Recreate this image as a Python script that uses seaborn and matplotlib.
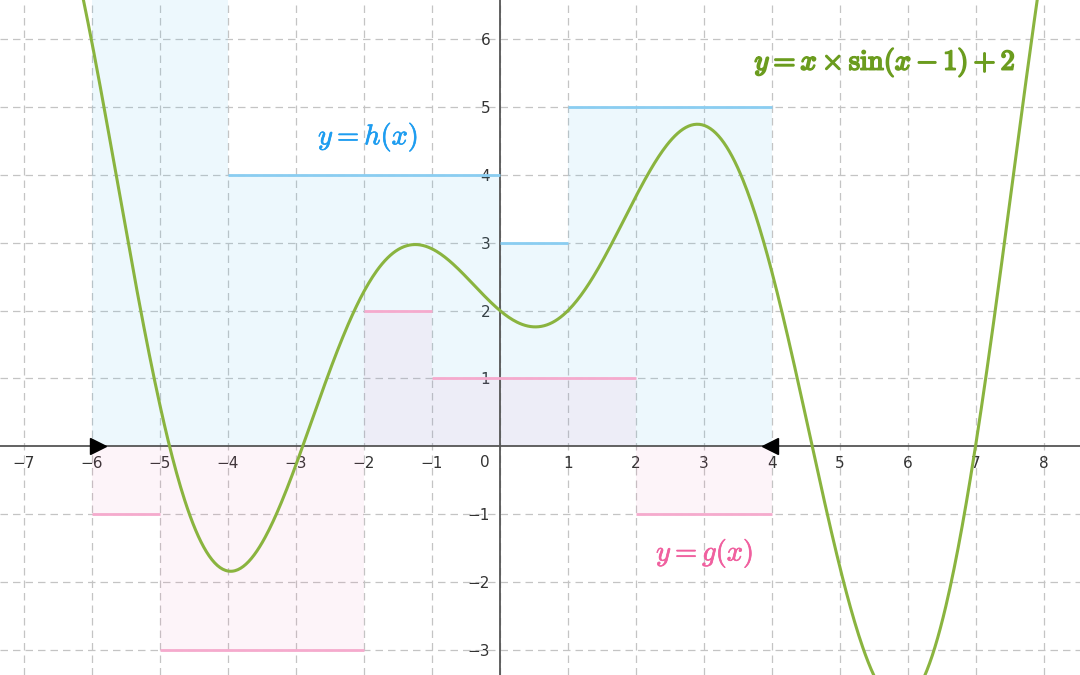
import numpy as np
import matplotlib
matplotlib.use("Agg")
import matplotlib.pyplot as plt
import matplotlib.patheffects as pe
import seaborn as sns

# step function h(x): edges and values (value on [-6,-4] runs off the top)
h_edges = [-6, -4, 0, 1, 4]
h_vals = [7, 4, 3, 5]

# step function g(x)
g_edges = [-6, -5, -2, -1, 2, 4]
g_vals = [-1, -3, 2, 1, -1]

x_ticks = [-7, -6, -5, -4, -3, -2, -1, 0, 1, 2, 3, 4, 5, 6, 7, 8]
y_ticks = [-3, -2, -1, 1, 2, 3, 4, 5, 6]

# the plotted function, as written on the chart: y = x*sin(x-1)+2
xs = np.linspace(-7.4, 8.6, 800)
ys = xs * np.sin(xs - 1) + 2

green = "#8ab43f"
blue_line = "#8acdf1"
pink_line = "#f5aacd"

sns.set_theme(style="white")
plt.rcParams['font.family'] = ['DejaVu Sans']
plt.rcParams['mathtext.fontset'] = 'cm'

fig = plt.figure(figsize=(10.8, 6.75), dpi=100)
ax = fig.add_axes([0, 0, 1, 1])
ax.set_xlim(-7.353, 8.53)
ax.set_ylim(-3.367, 6.574)

# grid
for t in x_ticks:
    ax.axvline(t, color="#c4c4c4", lw=0.9, ls=(0, (6, 4)), zorder=0)
for t in y_ticks:
    ax.axhline(t, color="#c4c4c4", lw=0.9, ls=(0, (6, 4)), zorder=0)

# shaded areas under the step functions
h_x = np.array(h_edges)
h_y = np.array(h_vals + [h_vals[-1]])
ax.fill_between(h_x, 0, h_y, step="post", color="#50bef0", alpha=0.1, lw=0, zorder=1)
g_x = np.array(g_edges)
g_y = np.array(g_vals + [g_vals[-1]])
ax.fill_between(g_x, 0, g_y, step="post", color="#f064aa", alpha=0.07, lw=0, zorder=1)

# step segments
ax.hlines(h_vals, h_edges[:-1], h_edges[1:], color=blue_line, lw=2, zorder=3)
ax.hlines(g_vals, g_edges[:-1], g_edges[1:], color=pink_line, lw=2, zorder=3)

# axes through the origin
ax.spines['left'].set_position('zero')
ax.spines['bottom'].set_position('zero')
ax.spines['right'].set_visible(False)
ax.spines['top'].set_visible(False)
for s in ['left', 'bottom']:
    ax.spines[s].set_color("#555555")
    ax.spines[s].set_linewidth(1.3)
    ax.spines[s].set_zorder(2)

ax.set_xticks(x_ticks)
ax.set_xticklabels([("\u2212%d" % -t if t < 0 else str(t)) if t != 0 else "" for t in x_ticks])
ax.set_yticks(y_ticks)
ax.set_yticklabels([("\u2212%d" % -t if t < 0 else str(t)) for t in y_ticks])
ax.tick_params(axis='both', length=0, labelsize=11, colors="#333333")
ax.tick_params(axis='x', pad=7)
ax.tick_params(axis='y', pad=7)
ax.text(-0.22, -0.24, "0", fontsize=11, color="#333333", ha="center", va="center")

# the curve
sns.lineplot(x=xs, y=ys, color=green, lw=2.2, ax=ax, zorder=4, sort=False)

# interval end markers
ax.plot([h_edges[0] + 0.09], [0], marker=">", color="black", ms=11, zorder=5, clip_on=False)
ax.plot([h_edges[-1] - 0.03], [0], marker="<", color="black", ms=11, zorder=5, clip_on=False)

# labels
ax.text(-1.94, 4.56, r"$y=h(x)$", color="#1e9df0", fontsize=20.5, ha="center", va="center",
        path_effects=[pe.withStroke(linewidth=0.5, foreground="#1e9df0")])
ax.text(3.01, -1.57, r"$y=g(x)$", color="#f0609f", fontsize=20.5, ha="center", va="center",
        path_effects=[pe.withStroke(linewidth=0.5, foreground="#f0609f")])
ax.text(5.66, 5.66, r"$y=x\times\mathrm{sin}(x-1)+2$",
        color="#6b9c1e", fontsize=20.5, ha="center", va="center",
        path_effects=[pe.withStroke(linewidth=1.3, foreground="#6b9c1e")])

fig.savefig("out.png", dpi=100)
